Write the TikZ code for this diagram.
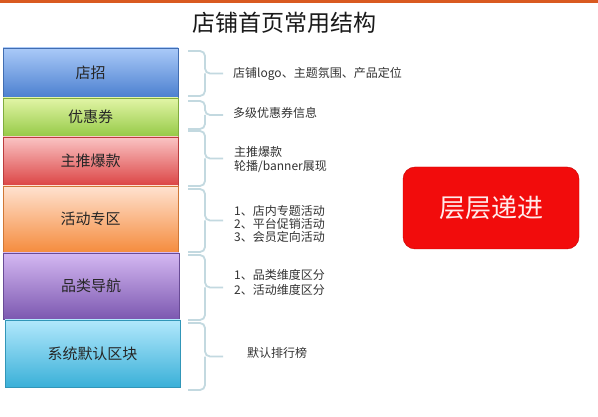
\documentclass[tikz,border=0pt]{standalone}
\usepackage{fontspec}
\setmainfont{Noto Sans CJK SC}
\begin{document}
\begin{tikzpicture}[x=1pt,y=-1pt,
  blk/.style 2 args={anchor=north west, top color=#1, bottom color=#2, draw=#2!85!black, line width=0.4pt,
     outer sep=0pt, inner sep=0pt, font=\fontsize{15}{17}\selectfont, text=black!85},
  bracestyle/.style={draw=bracecol, line width=1.8pt, rounded corners=5pt},
  desc/.style={anchor=west, align=left, inner sep=0pt, text=black!80, font=\fontsize{12}{14}\selectfont}]
\definecolor{bracecol}{HTML}{C3D9E0}
\definecolor{topline}{HTML}{D95A20}
\definecolor{blueT}{RGB}{170,202,248}\definecolor{blueB}{RGB}{76,128,208}
\definecolor{greenT}{RGB}{226,245,166}\definecolor{greenB}{RGB}{150,202,72}
\definecolor{redT}{RGB}{250,196,196}\definecolor{redB}{RGB}{220,70,70}
\definecolor{orangeT}{RGB}{255,226,208}\definecolor{orangeB}{RGB}{245,140,62}
\definecolor{purpleT}{RGB}{212,184,242}\definecolor{purpleB}{RGB}{124,88,176}
\definecolor{cyanT}{RGB}{178,232,252}\definecolor{cyanB}{RGB}{58,176,216}
\useasboundingbox (0,0) rectangle (598,417);
\fill[white] (0,0) rectangle (598,417);
\fill[topline] (0,0) rectangle (598,3);
% title
\node[font=\fontsize{23}{26}\selectfont, text=black!90] (title) at (284,23) {店铺首页常用结构};
% boxes
\node[blk={blueT}{blueB}, minimum width=175pt, minimum height=49pt] (b1) at (3,48) {店招};
\node[blk={greenT}{greenB}, minimum width=175pt, minimum height=38pt] (b2) at (3,98) {优惠券};
\node[blk={redT}{redB}, minimum width=175pt, minimum height=48pt] (b3) at (3,137) {主推爆款};
\node[blk={orangeT}{orangeB}, minimum width=175pt, minimum height=66pt] (b4) at (3,186) {活动专区};
\node[blk={purpleT}{purpleB}, minimum width=176pt, minimum height=66pt] (b5) at (3,253) {品类导航};
\node[blk={cyanT}{cyanB}, minimum width=175pt, minimum height=67pt] (b6) at (5,320) {系统默认区块};
% braces
\foreach \t/\b in {51/96, 101/129, 131/186, 189/252, 255/320, 323/390}{
  \pgfmathsetmacro{\m}{(\t+\b)/2}
  \draw[bracestyle] (188,\t) -- (205,\t) -- (205,\m) -- (223,\m);
  \draw[bracestyle] (188,\b) -- (205,\b) -- (205,\m);
}
% descriptions
\node[desc] (d1) at (233,74) {店铺logo、主题氛围、产品定位};
\node[desc] (d2) at (233,113) {多级优惠券信息};
\node[desc] (d3) at (234,160) {主推爆款\\轮播/banner展现};
\node[desc, font=\fontsize{12}{13}\selectfont] (d4) at (234,224) {1、店内专题活动\\2、平台促销活动\\3、会员定向活动};
\node[desc, font=\fontsize{12}{15}\selectfont] (d5) at (234,282) {1、品类维度区分\\2、活动维度区分};
\node[desc] (d6) at (247,353) {默认排行榜};
% red box
\node[draw={rgb,255:red,200;green,0;blue,0}, fill={rgb,255:red,242;green,12;blue,12}, rounded corners=12pt,
  minimum width=176pt, minimum height=82pt, outer sep=0pt,
  text={rgb,255:red,255;green,235;blue,235}, font=\fontsize{26}{28}\selectfont] (red) at (491,208) {层层递进};
\end{tikzpicture}
\end{document}
